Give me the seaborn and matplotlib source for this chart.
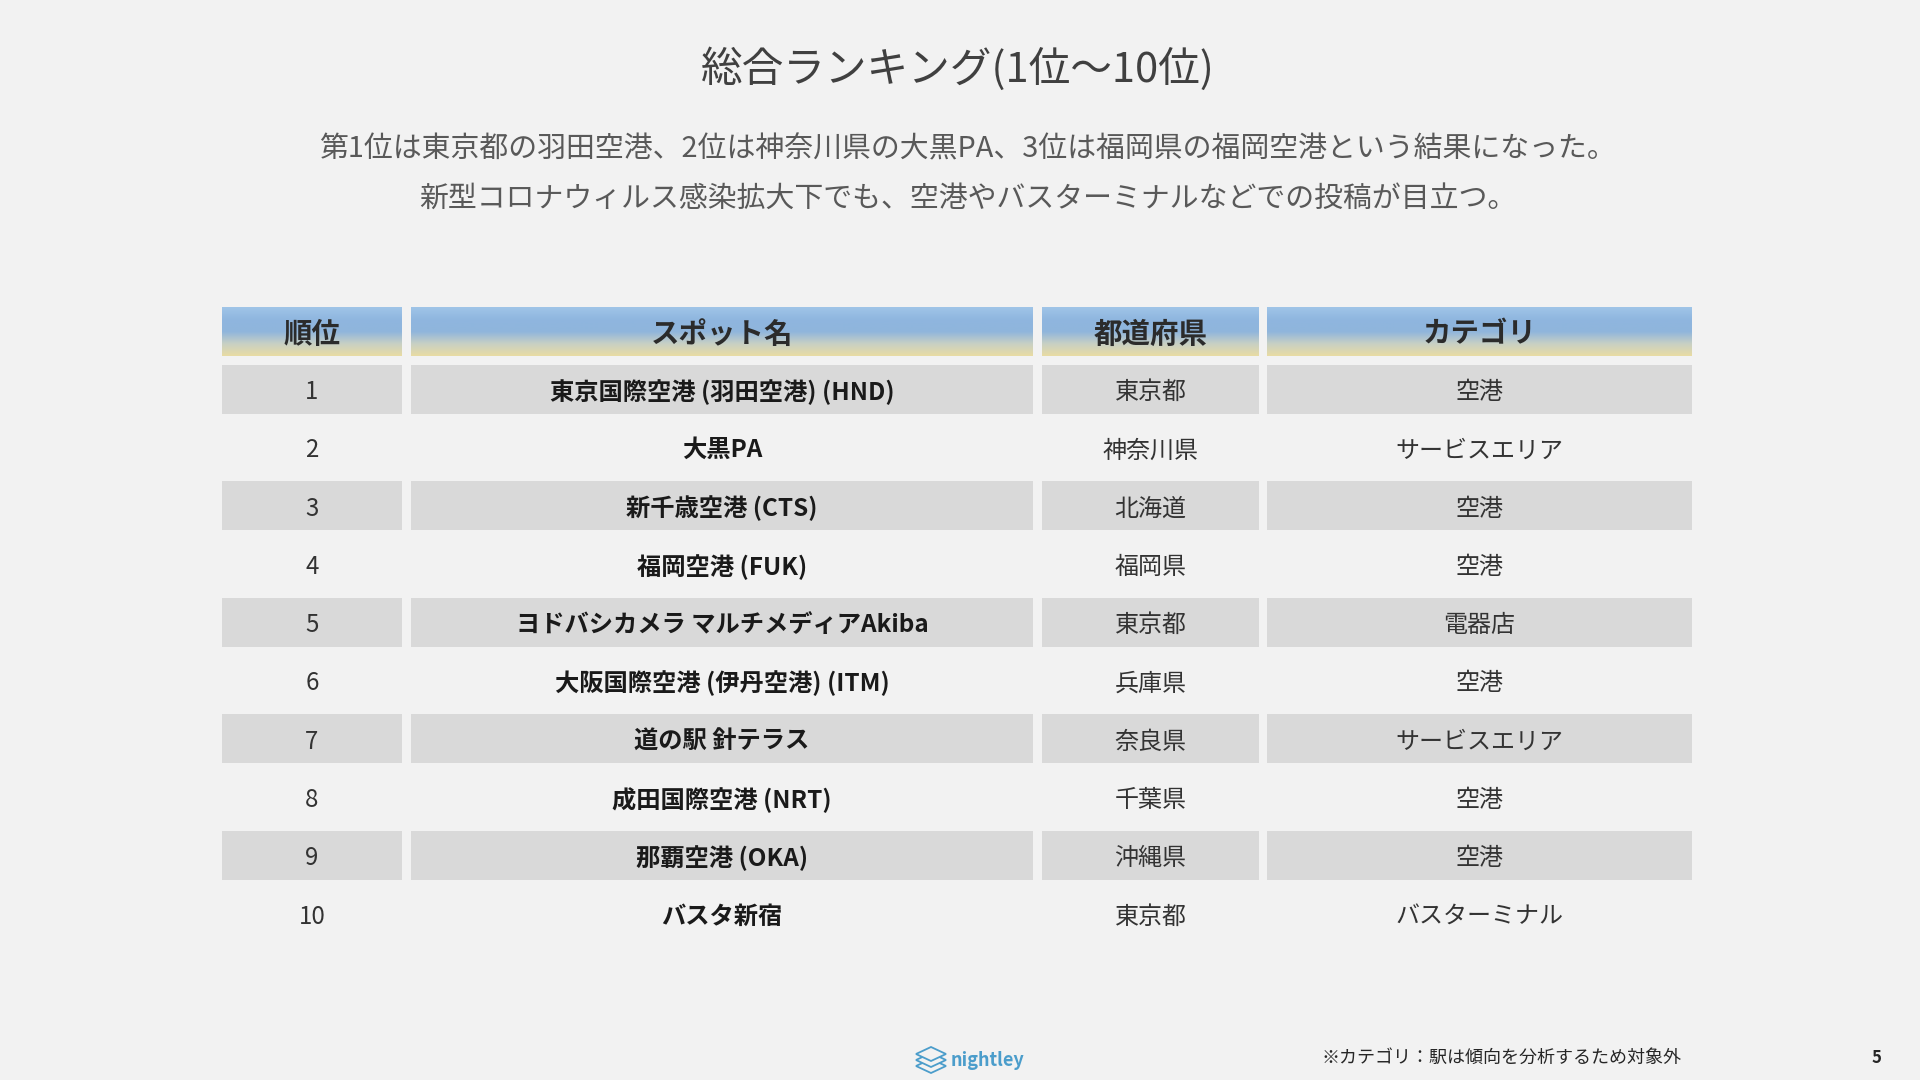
import matplotlib
matplotlib.use("Agg")
import matplotlib.pyplot as plt
from matplotlib.patches import Rectangle, Polygon
import numpy as np
import seaborn as sns

# table content
headers = ["順位", "スポット名", "都道府県", "カテゴリ"]
ranks = ["1", "2", "3", "4", "5", "6", "7", "8", "9", "10"]
spots = [
    "東京国際空港 (羽田空港) (HND)",
    "大黒PA",
    "新千歳空港 (CTS)",
    "福岡空港 (FUK)",
    "ヨドバシカメラ マルチメディアAkiba",
    "大阪国際空港 (伊丹空港) (ITM)",
    "道の駅 針テラス",
    "成田国際空港 (NRT)",
    "那覇空港 (OKA)",
    "バスタ新宿",
]
prefs = ["東京都", "神奈川県", "北海道", "福岡県", "東京都",
         "兵庫県", "奈良県", "千葉県", "沖縄県", "東京都"]
cats = ["空港", "サービスエリア", "空港", "空港", "電器店",
        "空港", "サービスエリア", "空港", "空港", "バスターミナル"]

title = "総合ランキング(1位〜10位)"
subtitle = ["第1位は東京都の羽田空港、2位は神奈川県の大黒PA、3位は福岡県の福岡空港という結果になった。",
            "新型コロナウィルス感染拡大下でも、空港やバスターミナルなどでの投稿が目立つ。"]
footnote = "※カテゴリ：駅は傾向を分析するため対象外"
page_no = "5"

sns.set_theme(style="white")
plt.rcParams["font.family"] = ["Noto Sans CJK JP", "DejaVu Sans"]

BG = "#f2f2f2"
SHADE = "#d9d9d9"

fig = plt.figure(figsize=(19.2, 10.8), dpi=100, facecolor=BG)
ax = fig.add_axes([0, 0, 1, 1])
ax.set_facecolor(BG)

# layout in pixel units
col_edges = [(222, 402), (411, 1033), (1042, 1259), (1267, 1692)]
head_top, head_h = 307, 49
row0, row_step, row_h = 389, 58.3, 49
dy_txt = 3  # CJK glyphs sit a little high with va=center

# header cells with gradient
grad = sns.blend_palette(["#a0c5e8", "#8fb6df", "#8fb5dc", "#c8d0c4", "#e9dca3"],
                         n_colors=256, as_cmap=True)
g = np.linspace(0, 1, 256).reshape(-1, 1)
for (x0, x1), h in zip(col_edges, headers):
    ax.imshow(g, cmap=grad, extent=[x0, x1, head_top + head_h, head_top],
              aspect="auto", interpolation="bicubic", zorder=1)
    ax.text((x0 + x1) / 2, head_top + head_h / 2 + dy_txt, h, ha="center", va="center",
            fontsize=20.5, fontweight="bold", color="#2b2b2b", zorder=3)

# body rows
for i, row in enumerate(zip(ranks, spots, prefs, cats)):
    yc = row0 + i * row_step
    for j, ((x0, x1), val) in enumerate(zip(col_edges, row)):
        if i % 2 == 0:
            ax.add_patch(Rectangle((x0, yc - row_h / 2), x1 - x0, row_h,
                                   facecolor=SHADE, edgecolor="none", zorder=1))
        ax.text((x0 + x1) / 2, yc + dy_txt, val, ha="center", va="center",
                fontsize=17.5 if j == 1 else 17.3,
                fontweight="bold" if j == 1 else "normal",
                color="#1a1a1a" if j == 1 else "#333333", zorder=3)

# titles
ax.text(958, 69, title, ha="center", va="center", fontsize=30,
        color="#404040")
ax.text(967, 149, subtitle[0], ha="center", va="center", fontsize=20.8,
        color="#595959")
ax.text(968, 199, subtitle[1], ha="center", va="center", fontsize=20.8,
        color="#595959")

# footer
ax.text(1322, 1058, footnote, ha="left", va="center", fontsize=13, color="#262626")
ax.text(1876, 1058, page_no, ha="center", va="center", fontsize=12,
        fontweight="bold", color="#262626")

# logo
blue = "#4b9dcb"
for dy in [12, 6, 0]:
    cx, cy = 931, 1054 + dy
    ax.add_patch(Polygon([(cx - 15, cy), (cx, cy - 7), (cx + 15, cy), (cx, cy + 7)],
                         closed=True, facecolor=BG, edgecolor=blue, lw=1.3, zorder=3))
ax.text(951, 1061, "nightley", ha="left", va="center", fontsize=13,
        fontweight="bold", color=blue, zorder=3)

ax.set_xlim(0, 1920)
ax.set_ylim(1080, 0)
ax.axis("off")

fig.savefig("out.png", dpi=100, facecolor=BG)
